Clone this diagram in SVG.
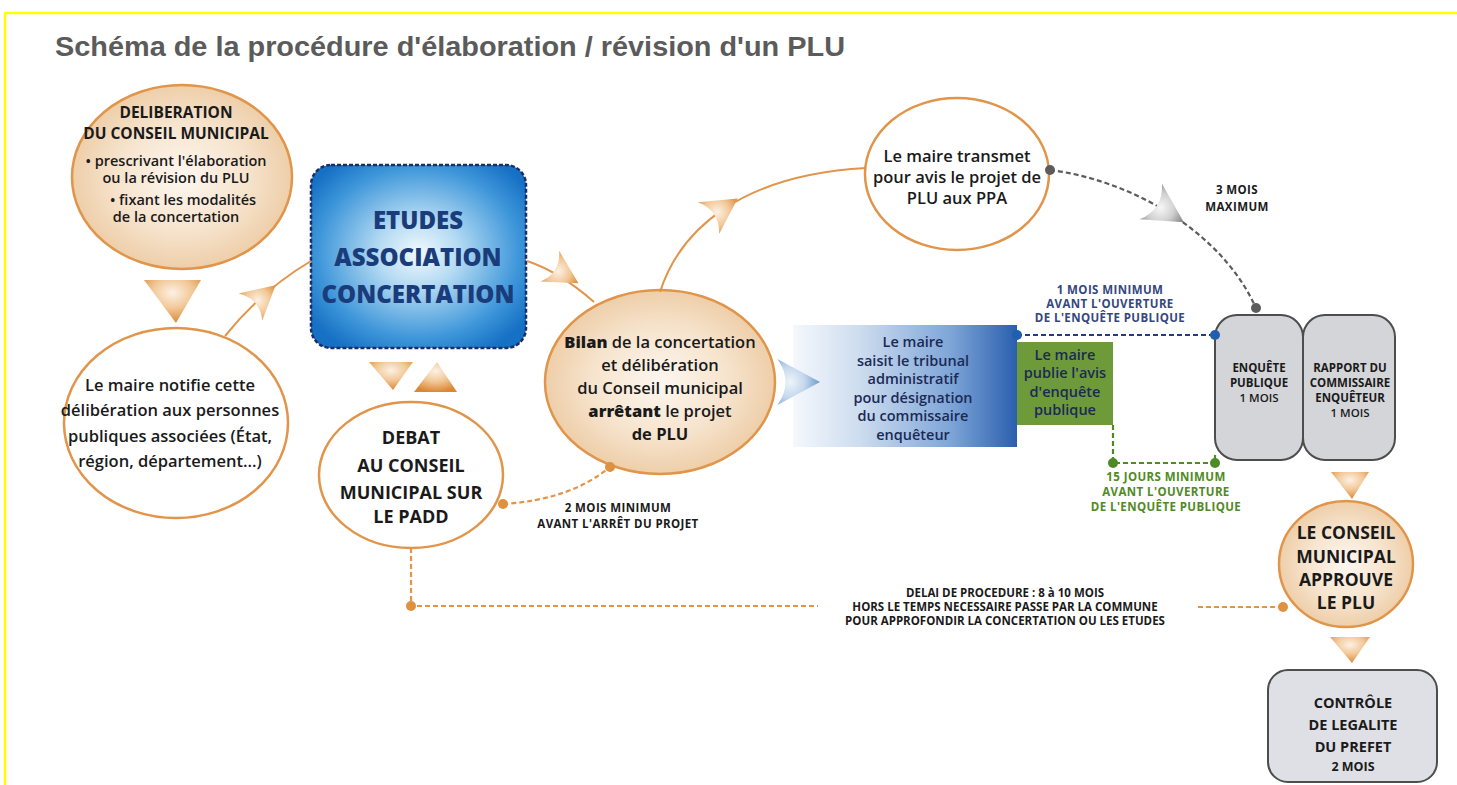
<svg xmlns="http://www.w3.org/2000/svg" xmlns:xlink="http://www.w3.org/1999/xlink" width="1457" height="785" viewBox="0 0 1457 785">
<defs>
<radialGradient id="peach" cx="50%" cy="50%" r="55%">
<stop offset="0" stop-color="#fdf7f0"/><stop offset="0.55" stop-color="#f6e3cc"/><stop offset="1" stop-color="#ecc9a0"/>
</radialGradient>
<radialGradient id="etudesG" cx="50%" cy="48%" r="62%">
<stop offset="0" stop-color="#f2f9fd"/><stop offset="0.3" stop-color="#b5dbf3"/><stop offset="0.75" stop-color="#3f97da"/><stop offset="1" stop-color="#1670c4"/>
</radialGradient>
<linearGradient id="blueG" x1="0" y1="0" x2="1" y2="0">
<stop offset="0" stop-color="#f5f8fc"/><stop offset="0.3" stop-color="#cddcef"/><stop offset="0.7" stop-color="#7fa6d8"/><stop offset="1" stop-color="#2a5fae"/>
</linearGradient>
<radialGradient id="triO" cx="50%" cy="30%" r="70%">
<stop offset="0" stop-color="#fcf1e4"/><stop offset="0.5" stop-color="#f2c898"/><stop offset="1" stop-color="#db8836"/>
</radialGradient>
<radialGradient id="triG" cx="50%" cy="30%" r="70%">
<stop offset="0" stop-color="#f7f7f7"/><stop offset="0.5" stop-color="#d0d0d0"/><stop offset="1" stop-color="#7d7d7d"/>
</radialGradient>
<radialGradient id="triB" cx="50%" cy="30%" r="70%">
<stop offset="0" stop-color="#eef4fa"/><stop offset="0.5" stop-color="#c3d7ec"/><stop offset="1" stop-color="#6b9acb"/>
</radialGradient>
<path id="tri" d="M0,20 L-20,-17 Q0,-3 20,-17 Z"/>
<style>
.t{font-family:"Open Sans",Lato,"DejaVu Sans",sans-serif;fill:#1a1a1a;text-anchor:middle;font-weight:600}
.b{font-weight:700}
.k{font-weight:800}
.o{stroke:#e0954a;stroke-width:2.5}
.ln{fill:none;stroke:#e0954a;stroke-width:2}
.dO{fill:none;stroke:#e0954a;stroke-width:2.2;stroke-dasharray:5 3}
.dG{fill:none;stroke:#5c5c5c;stroke-width:2.2;stroke-dasharray:5 3}
.dN{fill:none;stroke:#1f3e7a;stroke-width:2.2;stroke-dasharray:5 3}
.dV{fill:none;stroke:#4f8a25;stroke-width:2.2;stroke-dasharray:5 3}
.gb{fill:#d4d5d8;stroke:#4d4d4d;stroke-width:2}
.lab{font-size:11.5px;font-weight:700;letter-spacing:0.4px}
.nav{fill:#34477e}
.grn{fill:#4f8a25}
</style>
</defs>
<rect width="1457" height="785" fill="#ffffff"/>
<path d="M5,785 V13 H1457" fill="none" stroke="#ffff00" stroke-width="2.5"/>
<text x="55" y="56" font-family="'Liberation Sans',Arial,sans-serif" font-weight="700" font-size="27" fill="#5b5b5b" textLength="790" lengthAdjust="spacingAndGlyphs">Schéma de la procédure d'élaboration / révision d'un PLU</text>

<g id="n-deliberation">
<ellipse cx="182" cy="177" rx="110" ry="92" fill="url(#peach)" class="o"/>
<g class="t" font-size="14.5">
<text class="b" x="176" y="118" font-size="15.5">DELIBERATION</text>
<text class="b" x="176" y="139" font-size="15.5">DU CONSEIL MUNICIPAL</text>
<text x="176" y="166">• prescrivant l'élaboration</text>
<text x="176" y="183">ou la révision du PLU</text>
<text x="183" y="205">• fixant les modalités</text>
<text x="176" y="222">de la concertation</text>
</g>
</g>

<g id="n-notifie">
<ellipse cx="176" cy="423" rx="112" ry="95" fill="#ffffff" class="o"/>
<g class="t" font-size="16.5">
<text x="170" y="391">Le maire notifie cette</text>
<text x="170" y="416">délibération aux personnes</text>
<text x="170" y="442">publiques associées (État,</text>
<text x="170" y="467">région, département...)</text>
</g>
</g>

<g id="n-etudes">
<rect x="311" y="165" width="215" height="183" rx="20" fill="url(#etudesG)" stroke="#1a2f6a" stroke-width="2.5" stroke-dasharray="4 2"/>
<g class="t k" font-size="24" style="fill:#1b3c7a">
<text x="418" y="229">ETUDES</text>
<text x="418" y="266">ASSOCIATION</text>
<text x="418" y="303">CONCERTATION</text>
</g>
</g>

<g id="n-debat">
<ellipse cx="411" cy="475" rx="92" ry="73" fill="#ffffff" class="o"/>
<g class="t b" font-size="18">
<text x="411" y="444">DEBAT</text>
<text x="411" y="472">AU CONSEIL</text>
<text x="411" y="499">MUNICIPAL SUR</text>
<text x="411" y="523">LE PADD</text>
</g>
</g>

<g id="n-bilan">
<ellipse cx="660" cy="382" rx="115" ry="92" fill="url(#peach)" class="o"/>
<g class="t" font-size="16.5">
<text x="660" y="348"><tspan class="k">Bilan</tspan> de la concertation</text>
<text x="660" y="371">et délibération</text>
<text x="660" y="394">du Conseil municipal</text>
<text x="660" y="417"><tspan class="k">arrêtant</tspan> le projet</text>
<text x="660" y="440" class="b">de PLU</text>
</g>
</g>

<g id="n-ppa">
<ellipse cx="957" cy="174" rx="92" ry="76" fill="#ffffff" class="o"/>
<g class="t" font-size="16.5">
<text x="957" y="162">Le maire transmet</text>
<text x="957" y="183">pour avis le projet de</text>
<text x="957" y="204">PLU aux PPA</text>
</g>
</g>

<g id="n-tribunal">
<rect x="793" y="325" width="224" height="122" fill="url(#blueG)"/>
<g class="t" font-size="14.5" style="fill:#1a2a55">
<text x="913" y="347">Le maire</text>
<text x="913" y="366">saisit le tribunal</text>
<text x="913" y="384">administratif</text>
<text x="913" y="403">pour désignation</text>
<text x="913" y="421">du commissaire</text>
<text x="913" y="440">enquêteur</text>
</g>
</g>

<g id="n-avis">
<rect x="1017" y="342" width="96" height="83" fill="#6e9a3a"/>
<g class="t" font-size="14.5" style="fill:#1a2a55">
<text x="1065" y="360">Le maire</text>
<text x="1065" y="378">publie l'avis</text>
<text x="1065" y="397">d'enquête</text>
<text x="1065" y="415">publique</text>
</g>
</g>

<g id="n-enquete">
<rect x="1215" y="315" width="88" height="145" rx="22" class="gb"/>
<g class="t b" font-size="11.5">
<text x="1259" y="372">ENQUÊTE</text>
<text x="1259" y="387">PUBLIQUE</text>
<text x="1259" y="402" style="font-weight:600">1 MOIS</text>
</g>
</g>

<g id="n-rapport">
<rect x="1303" y="315" width="92" height="145" rx="22" class="gb"/>
<g class="t b" font-size="11.5">
<text x="1350" y="372">RAPPORT DU</text>
<text x="1350" y="387">COMMISSAIRE</text>
<text x="1350" y="402">ENQUÊTEUR</text>
<text x="1350" y="417" style="font-weight:600">1 MOIS</text>
</g>
</g>

<g id="n-approuve">
<ellipse cx="1346" cy="564" rx="67" ry="63" fill="url(#peach)" class="o"/>
<g class="t b" font-size="17.5">
<text x="1346" y="539">LE CONSEIL</text>
<text x="1346" y="563">MUNICIPAL</text>
<text x="1346" y="586">APPROUVE</text>
<text x="1346" y="609">LE PLU</text>
</g>
</g>

<g id="n-controle">
<rect x="1268" y="670" width="169" height="112" rx="20" fill="#dfe0e5" stroke="#4d4d4d" stroke-width="2"/>
<g class="t b" font-size="14.5">
<text x="1353" y="708">CONTRÔLE</text>
<text x="1353" y="730">DE LEGALITE</text>
<text x="1353" y="752">DU PREFET</text>
<text x="1353" y="771" font-size="12.5">2 MOIS</text>
</g>
</g>

<g id="connectors">
<path class="ln" d="M225,336 Q262,290 311,261"/>
<path class="ln" d="M527,261 Q560,272 594,302"/>
<path class="ln" d="M660,292 C680,230 740,175 866,168"/>
<path class="dG" d="M1050,170 C1130,180 1220,230 1255,306"/>
<path class="dO" d="M503,504 Q570,500 610,467"/>
<path class="dO" d="M411,548 V606 H818 M1198,607 H1283"/>
<path class="dN" d="M1017,335 H1215"/>
<path class="dV" d="M1113,425 V463 H1215 V455"/>
<polygon points="144,280 201,280 176,323" fill="url(#triO)"/>
<use xlink:href="#tri" fill="url(#triO)" transform="translate(262,297) rotate(-131) scale(0.9)"/>
<use xlink:href="#tri" fill="url(#triO)" transform="translate(563,274) rotate(-59) scale(0.9)"/>
<use xlink:href="#tri" fill="url(#triO)" transform="translate(722,209) rotate(-124) scale(0.95)"/>
<use xlink:href="#tri" fill="url(#triG)" transform="translate(1166,211) rotate(-58) scale(1.05)"/>
<use xlink:href="#tri" fill="url(#triB)" transform="translate(797,382) rotate(-90) scale(1.15)"/>
<polygon points="369,362 413,362 393,390" fill="url(#triO)"/>
<polygon points="437,362 457,392 414,392" fill="url(#triO)"/>
<polygon points="1331,472 1369,472 1352,499" fill="url(#triO)"/>
<polygon points="1330,637 1370,637 1352,663" fill="url(#triO)"/>
<g fill="#e0913f">
<circle cx="503" cy="504" r="5"/><circle cx="610" cy="467" r="5"/><circle cx="411" cy="606" r="5"/><circle cx="1283" cy="607" r="5"/>
</g>
<g fill="#5c5c5c"><circle cx="1050" cy="170" r="5"/><circle cx="1256" cy="308" r="5"/></g>
<g fill="#1f5fae"><circle cx="1017" cy="335" r="5"/><circle cx="1215" cy="335" r="5"/></g>
<g fill="#4f8a25"><circle cx="1113" cy="463" r="5"/><circle cx="1215" cy="463" r="5"/></g>
</g>

<g id="labels" class="t lab">
<text x="618" y="512">2 MOIS MINIMUM</text>
<text x="618" y="528">AVANT L'ARRÊT DU PROJET</text>
<text x="1237" y="194">3 MOIS</text>
<text x="1237" y="211">MAXIMUM</text>
<text class="nav" x="1110" y="294">1 MOIS MINIMUM</text>
<text class="nav" x="1110" y="308">AVANT L'OUVERTURE</text>
<text class="nav" x="1110" y="322">DE L'ENQUÊTE PUBLIQUE</text>
<text class="grn" x="1166" y="481">15 JOURS MINIMUM</text>
<text class="grn" x="1166" y="496">AVANT L'OUVERTURE</text>
<text class="grn" x="1166" y="511">DE L'ENQUÊTE PUBLIQUE</text>
<g style="letter-spacing:0">
<text x="1005" y="597">DELAI DE PROCEDURE : 8 à 10 MOIS</text>
<text x="1005" y="611">HORS LE TEMPS NECESSAIRE PASSE PAR LA COMMUNE</text>
<text x="1005" y="625">POUR APPROFONDIR LA CONCERTATION OU LES ETUDES</text>
</g>
</g>
</svg>
